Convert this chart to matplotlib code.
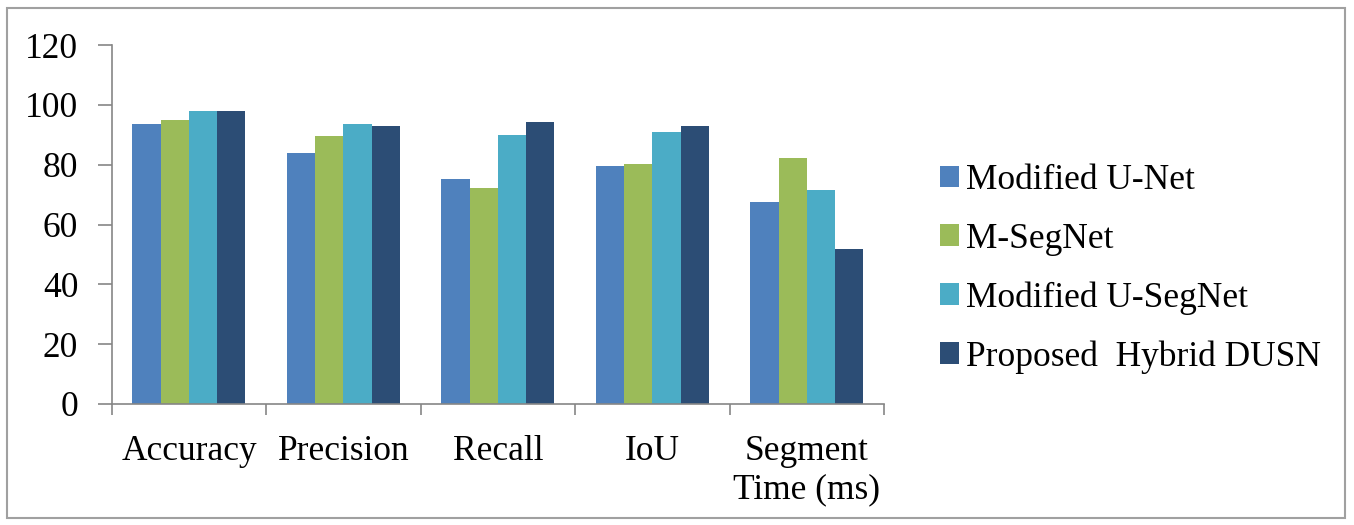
import numpy as np
import matplotlib
matplotlib.use("Agg")
import matplotlib.pyplot as plt
from matplotlib.patches import Rectangle

# metricas y resultados de cada modelo
categorias = ["Accuracy", "Precision", "Recall", "IoU", "Segment\nTime (ms)"]
modelos = ["Modified U-Net", "M-SegNet", "Modified U-SegNet", "Proposed  Hybrid DUSN"]
unet = [93.5, 84.0, 75.2, 79.7, 67.7]
msegnet = [94.9, 89.7, 72.1, 80.4, 82.3]
usegnet = [98.0, 93.6, 89.8, 91.1, 71.5]
dusn = [98.0, 93.0, 94.3, 93.0, 51.9]
colores = ["#4F81BD", "#9BBB59", "#4BACC6", "#2C4D75"]

plt.rcParams['font.family'] = ['Liberation Serif', 'DejaVu Serif']

fig = plt.figure(figsize=(13.54, 5.25), dpi=100)
ax = fig.add_axes([0.0825, 0.2305, 0.5705, 0.6835])

x = np.arange(len(categorias))
ancho = 0.183
series = [unet, msegnet, usegnet, dusn]
for i, (vals, nombre, c) in enumerate(zip(series, modelos, colores)):
    ax.bar(x + (i - 1.5) * ancho, vals, width=ancho, color=c, label=nombre, linewidth=0)

ax.set_xlim(-0.5, len(categorias) - 0.5)
ax.set_ylim(0, 120)
ax.set_yticks(range(0, 121, 20))

# marcas del eje x entre grupos
ax.set_xticks(x)
ax.set_xticklabels(categorias, fontsize=25.5, linespacing=1.25)
ax.set_xticks(np.arange(-0.5, len(categorias), 1), minor=True)
ax.tick_params(axis='x', which='major', length=0, pad=22)
ax.tick_params(axis='x', which='minor', length=8, width=1.2, color='#868686', direction='out')
ax.tick_params(axis='y', labelsize=25.5, length=10, width=1.2, color='#868686', pad=14)

for lado in ['top', 'right']:
    ax.spines[lado].set_visible(False)
for lado in ['left', 'bottom']:
    ax.spines[lado].set_color('#868686')
    ax.spines[lado].set_linewidth(1.2)

ax.legend(loc='center left', bbox_to_anchor=(0.694, 0.488), bbox_transform=fig.transFigure,
          frameon=False, fontsize=25.5, handlelength=0.55, handleheight=0.55,
          handletextpad=0.2, labelspacing=0.72, borderaxespad=0, borderpad=0)

# borde exterior del grafico
fig.patches.append(Rectangle((7 / 1354, 7 / 525), 1338 / 1354, 510 / 525,
                             transform=fig.transFigure, fill=False,
                             edgecolor='#A0A0A0', linewidth=1.5))

fig.savefig("out.png", dpi=100)
